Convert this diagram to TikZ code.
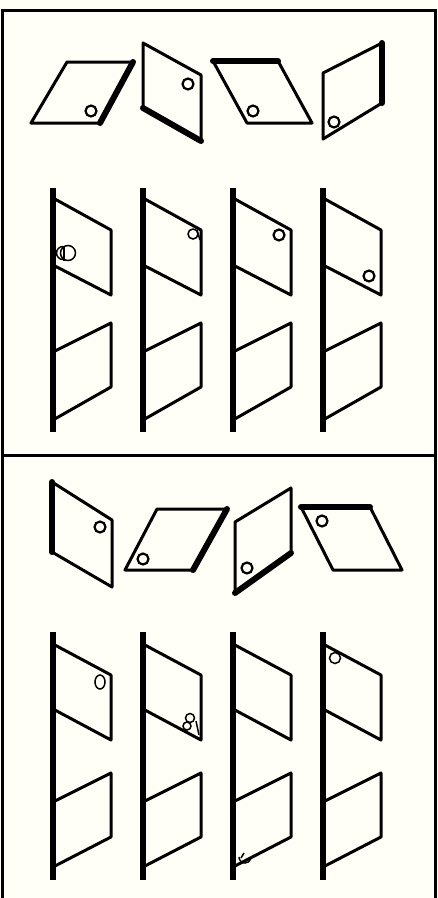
\documentclass[tikz,border=0pt]{standalone}
\begin{document}
\begin{tikzpicture}[x=1pt,y=-1pt,
  frameline/.style={line width=3pt,line cap=rect},
  thinline/.style={line width=3pt,line join=round,line cap=round},
  thickedge/.style={line width=6pt,line cap=round},
  barline/.style={line width=6pt},
  hole/.style={line width=2.2pt},
  sketch/.style={line width=1.5pt}]
\useasboundingbox (0,0) rectangle (438,898);
\fill[white!97!yellow] (0,0) rectangle (438,898);
% frame
\draw[frameline] (2,898) -- (2,10) -- (435,10) -- (435,898);
\draw[frameline] (2,455) -- (435,455);

% ===== Panel 1, top row =====
\draw[thinline] (67,62) -- (133,62) -- (100,123) -- (31,123) -- cycle;
\draw[thickedge] (133,62) -- (100,123);
\draw[hole] (91,111) circle (5.5);

\draw[thinline] (143,43) -- (201,75) -- (201,141) -- (143,108) -- cycle;
\draw[thickedge] (143,108) -- (201,141);
\draw[hole] (188,84) circle (5.5);

\draw[thinline] (213,61) -- (278,61) -- (312,123) -- (247,123) -- cycle;
\draw[thickedge] (213,61) -- (278,61);
\draw[hole] (253,111) circle (5.5);

\draw[thinline] (323,73) -- (382,43) -- (382,103) -- (323,139) -- cycle;
\draw[thickedge] (382,43) -- (382,103);
\draw[hole] (334,122) circle (5.5);

% ===== Panel 1, folded sheets =====
\foreach \bx in {53,143,233,323}{
  \draw[barline] (\bx,188) -- (\bx,432);
  \draw[thinline] (\bx,198) -- (\bx+58,230) -- (\bx+58,295) -- (\bx,265);
  \draw[thinline] (\bx,352) -- (\bx+58,323) -- (\bx+58,387) -- (\bx,420);
}
\draw[sketch] (68,253) circle (7.5);
\draw[sketch] (63,246.5) arc (270:90:6.5);
\draw[sketch] (64,246) -- (64,261);
\draw[sketch] (193,234) circle (5);
\draw[sketch] (197,230) -- (200,240);
\draw[hole] (279,235) circle (5.5);
\draw[hole] (369,276) circle (5.5);

% ===== Panel 2, top row =====
\draw[thinline] (52,482) -- (112,520) -- (112,587) -- (52,552) -- cycle;
\draw[thickedge] (52,482) -- (52,552);
\draw[hole] (100,527) circle (5.5);

\draw[thinline] (157,509) -- (227,509) -- (193,570) -- (125,570) -- cycle;
\draw[thickedge] (227,509) -- (193,570);
\draw[hole] (143,559) circle (5.5);

\draw[thinline] (235,522) -- (291,488) -- (291,553) -- (235,593) -- cycle;
\draw[thickedge] (291,553) -- (235,593);
\draw[hole] (247,568) circle (5.5);

\draw[thinline] (301,507) -- (370,507) -- (402,570) -- (333,570) -- cycle;
\draw[thickedge] (301,507) -- (370,507);
\draw[hole] (322,521) circle (5.5);

% ===== Panel 2, folded sheets =====
\foreach \bx in {53,143,233,323}{
  \draw[barline] (\bx,632) -- (\bx,880);
  \draw[thinline] (\bx,644) -- (\bx+58,675) -- (\bx+58,740) -- (\bx,709);
  \draw[thinline] (\bx,802) -- (\bx+58,773) -- (\bx+58,837) -- (\bx,867);
}
\draw[sketch] (100,682) ellipse (5 and 7);
\draw[sketch] (190,718) circle (4.5);
\draw[sketch] (187,726) circle (4);
\draw[sketch] (196,721) -- (199,735);
\draw[sketch] (239,857) arc (180:20:6);
\draw[sketch] (241,858) -- (244,853);
\draw[sketch] (335,658) circle (5.5);
\end{tikzpicture}
\end{document}
